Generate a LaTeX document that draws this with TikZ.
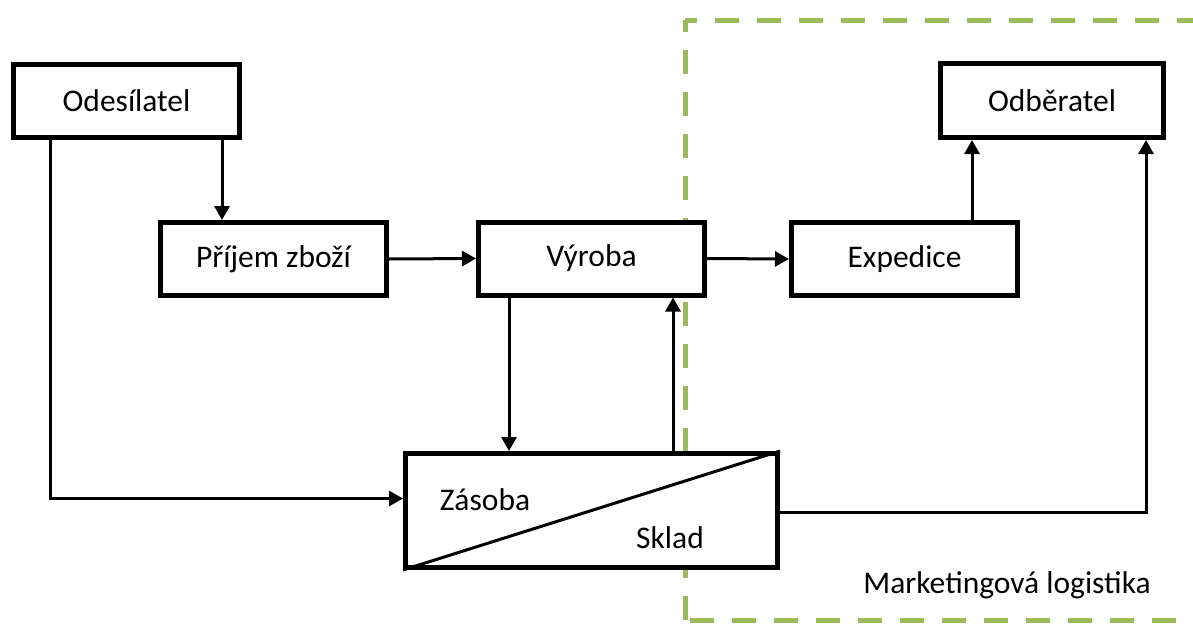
\documentclass[tikz,border=0pt]{standalone}
\usepackage{fontspec}
\setmainfont{Carlito}
\usetikzlibrary{arrows.meta}
\definecolor{offgreen}{HTML}{9BBB59}
\begin{document}
\begin{tikzpicture}[x=1pt,y=-1pt,
  box/.style={draw=black,line width=5pt,fill=white,inner sep=0pt,minimum width=226pt,minimum height=73pt,font=\fontsize{31.5}{38}\selectfont},
  lbl/.style={inner sep=0pt,font=\fontsize{31.5}{38}\selectfont},
  conn/.style={line width=3pt},
  arr/.style={line width=3pt,-{Triangle[length=14pt,width=15pt]}},
  grn/.style={draw=offgreen,line width=5pt,dash pattern=on 24pt off 18pt,dash phase=12pt}
]
\useasboundingbox (0,0) rectangle (1193,624);
% dashed area
\draw[grn] (685,20) -- (1230,20);
\draw[grn] (685,20) -- (685,640);
\draw[grn,dash phase=0pt] (690,620) -- (1230,620);
% boxes
\node[box] (odes) at (126.5,100.5) {Odesílatel};
\node[box] (prij) at (273.5,259) {Příjem zboží};
\node[box] (vyr) at (591.5,258.5) {Výroba};
\node[box] (exp) at (904.5,259) {Expedice};
\node[box,minimum width=223pt,minimum height=74pt] (odb) at (1052,100.5) {Odběratel};
\node[box,minimum width=372pt,minimum height=114pt] (skl) at (591.5,510.5) {};
\draw[line width=3pt] (skl.south west) -- (skl.north east);
\node[lbl] (zas) at (485,500) {Zásoba};
\node[lbl] (skladt) at (670,538) {Sklad};
\node[lbl] (mark) at (1007,585) {Marketingová logistika};
% connectors
\draw[arr] ([xshift=95.5pt]odes.south) -- ([xshift=95.5pt]odes.south |- prij.north);
\draw[arr] ([xshift=-76.5pt]odes.south) |- ([yshift=12pt]skl.west);
\draw[arr] (prij.east) -- (vyr.west);
\draw[arr] (vyr.east) -- (exp.west);
\draw[arr] ([xshift=-82.5pt]vyr.south) -- ([xshift=-82.5pt]vyr.south |- skl.north);
\draw[arr] ([xshift=81.5pt]skl.north) -- ([xshift=81.5pt]skl.north |- vyr.south);
\draw[arr] ([xshift=67.5pt]exp.north) -- ([xshift=67.5pt]exp.north |- odb.south);
\draw[arr] ([yshift=-2pt]skl.east) -| ([xshift=-20pt]odb.south east);
\end{tikzpicture}
\end{document}
